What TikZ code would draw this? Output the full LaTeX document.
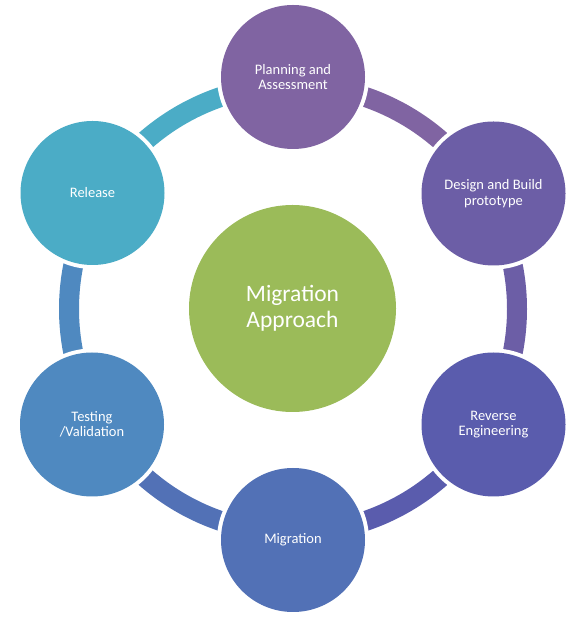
\documentclass[tikz,border=0pt]{standalone}
\usepackage{fontspec}
\setmainfont{Carlito}
\usetikzlibrary{calc}
\pgfdeclarelayer{bg}
\pgfdeclarelayer{halo}
\pgfsetlayers{bg,halo,main}
\definecolor{cPlan}{HTML}{8064A2}
\definecolor{cDesign}{HTML}{6C5EA6}
\definecolor{cRev}{HTML}{5A5CAD}
\definecolor{cMig}{HTML}{5271B6}
\definecolor{cTest}{HTML}{4F89C0}
\definecolor{cRel}{HTML}{4BACC6}
\definecolor{cCenter}{HTML}{9BBB59}
\tikzset{
  stage/.style={circle, minimum size=144pt, inner sep=0pt, text=white, align=center,
    font=\fontsize{14.5}{15.5}\selectfont},
  hub/.style={circle, minimum size=207pt, inner sep=0pt, fill=cCenter, text=white, align=center,
    font=\fontsize{23.5}{26}\selectfont},
  band/.style={line width=20pt},
  halo/.style={fill=white}
}
\begin{document}
\begin{tikzpicture}[x=1pt,y=1pt]
\useasboundingbox (0,0) rectangle (578,623);
\coordinate (rc) at (293,314);
\node[hub] (center) at (292.5,314.5) {Migration\\Approach};
\node[stage, fill=cPlan] (plan) at (293,546) {Planning and\\Assessment};
\node[stage, fill=cDesign] (design) at (493.5,429.5) {Design and Build\\prototype};
\node[stage, fill=cRev] (rev) at (493.5,198.5) {Reverse\\Engineering};
\node[stage, fill=cMig] (mig) at (293,83) {Migration};
\node[stage, fill=cTest] (test) at (92,198.5) {Testing\\/Validation};
\node[stage, fill=cRel] (rel) at (92.5,430) {Release};
\begin{pgfonlayer}{halo}
  \foreach \n in {plan,design,rev,mig,test,rel}
    \fill[halo] (\n.center) circle (76);
\end{pgfonlayer}
\begin{pgfonlayer}{bg}
  \draw[band, cPlan]   ($(rc)+(90:224)$)  arc[start angle=90,  end angle=30,  radius=224];
  \draw[band, cDesign] ($(rc)+(30:224)$)  arc[start angle=30,  end angle=-30, radius=224];
  \draw[band, cRev]    ($(rc)+(-30:224)$) arc[start angle=-30, end angle=-90, radius=224];
  \draw[band, cMig]    ($(rc)+(-90:224)$) arc[start angle=-90, end angle=-150,radius=224];
  \draw[band, cTest]   ($(rc)+(210:224)$) arc[start angle=210, end angle=150, radius=224];
  \draw[band, cRel]    ($(rc)+(150:224)$) arc[start angle=150, end angle=90,  radius=224];
\end{pgfonlayer}
\end{tikzpicture}
\end{document}
